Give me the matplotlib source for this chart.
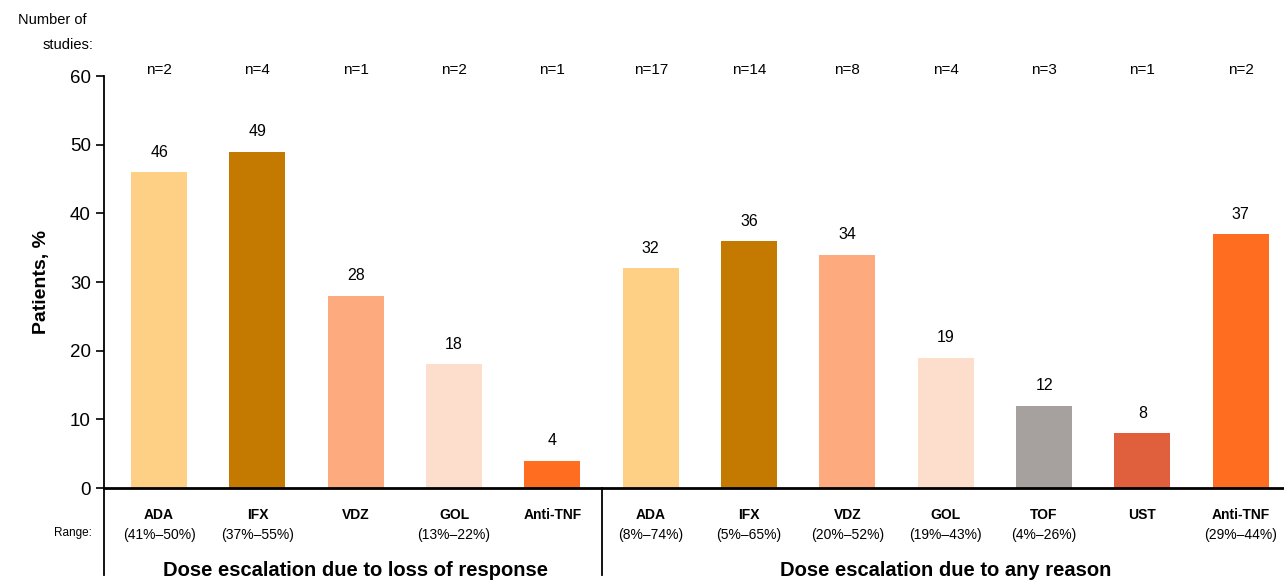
import matplotlib.pyplot as plt

plt.rcParams['font.family'] = ['Liberation Sans', 'DejaVu Sans']

# data
drugs = ["ADA", "IFX", "VDZ", "GOL", "Anti-TNF",
         "ADA", "IFX", "VDZ", "GOL", "TOF", "UST", "Anti-TNF"]
values = [46, 49, 28, 18, 4,
          32, 36, 34, 19, 12, 8, 37]
n_studies = [2, 4, 1, 2, 1,
             17, 14, 8, 4, 3, 1, 2]
ranges = ["(41%\u201350%)", "(37%\u201355%)", "", "(13%\u201322%)", "",
          "(8%\u201374%)", "(5%\u201365%)", "(20%\u201352%)", "(19%\u201343%)",
          "(4%\u201326%)", "", "(29%\u201344%)"]
groups = ["Dose escalation due to loss of response", "Dose escalation due to any reason"]
group_size = [5, 7]

colors = {"ADA": "#FDD085", "IFX": "#C47A00", "VDZ": "#FDAA7E", "GOL": "#FDDDCB",
          "Anti-TNF": "#FF6D20", "TOF": "#A6A09F", "UST": "#E0603D"}

fig = plt.figure(figsize=(12.84, 5.81), dpi=100)
ax = fig.add_axes([0.081, 0.160, 0.919, 0.709])

x = list(range(len(values)))
ax.bar(x, values, width=0.57, color=[colors[d] for d in drugs], zorder=2)

for xi, v in zip(x, values):
    ax.text(xi, v + 1.8, str(v), ha='center', va='bottom', fontsize=11.5)

ax.set_ylim(0, 60)
ax.set_xlim(-0.56, len(values) - 1 + 0.44)
ax.set_yticks(range(0, 61, 10))
ax.tick_params(axis='y', labelsize=13.5, length=6, width=1.2)
ax.set_xticks([])
ax.set_ylabel("Patients, %", fontsize=14, fontweight='bold', labelpad=14)

for s in ['top', 'right']:
    ax.spines[s].set_visible(False)
ax.spines['left'].set_linewidth(1.3)
ax.spines['bottom'].set_linewidth(2)

trans = ax.get_xaxis_transform()
# n= labels
for xi, n in zip(x, n_studies):
    ax.text(xi, 1.015, "n=%d" % n, transform=trans, ha='center', va='center', fontsize=11)

# drug names and ranges
for xi, d, r in zip(x, drugs, ranges):
    ax.text(xi, -0.065, d, transform=trans, ha='center', va='center',
            fontsize=10, fontweight='bold')
    if r:
        ax.text(xi, -0.113, r, transform=trans, ha='center', va='center', fontsize=10)

fig.text(0.0717, 0.0826, "Range:", ha='right', va='center', fontsize=8.5)
fig.text(0.0405, 1 - 20 / 581, "Number of", ha='center', va='center', fontsize=10.5)
fig.text(0.0725, 1 - 45 / 581, "studies:", ha='right', va='center', fontsize=10.5)

# left spine extension and group divider
ax.plot([-0.56, -0.56], [0, -0.21], transform=trans, color='black', lw=1.3, clip_on=False)
div = group_size[0] - 0.5
ax.plot([div, div], [0, -0.21], transform=trans, color='black', lw=1.3, clip_on=False)

# group titles
start = 0
for g, size in zip(groups, group_size):
    center = start + (size - 1) / 2
    ax.text(center, -0.2, g, transform=trans, ha='center', va='center',
            fontsize=14.5, fontweight='bold')
    start += size

fig.savefig("out.png", dpi=100)
